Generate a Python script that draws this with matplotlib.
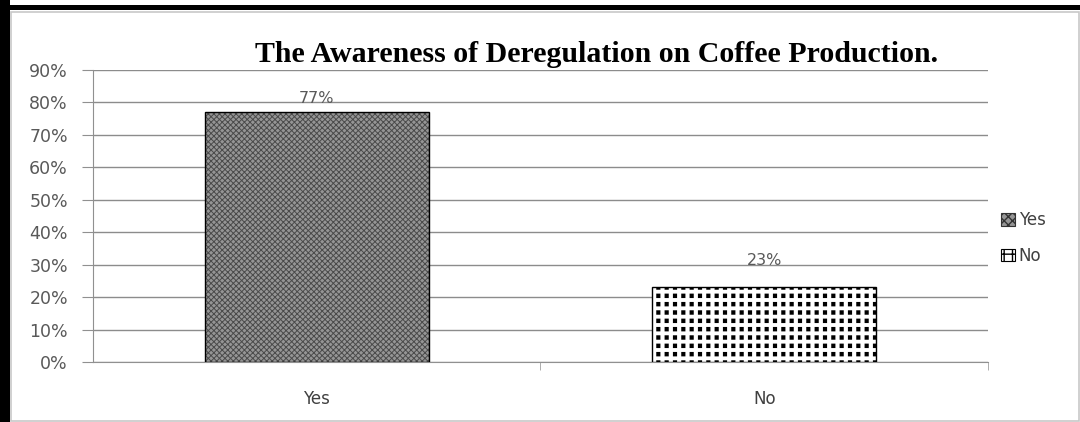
import matplotlib.pyplot as plt
import matplotlib as mpl
from matplotlib.patches import Rectangle, Patch
from matplotlib.ticker import PercentFormatter

categories = ['Yes', 'No']
shares = [77, 23]
bar_labels = ['77%', '23%']
title = 'The Awareness of Deregulation on Coffee Production.'

fig = plt.figure(figsize=(10.8, 4.22), dpi=100)
ax = fig.add_axes([0.0861, 0.1422, 0.8287, 0.6918])

# fine grey stipple for "Yes"
with mpl.rc_context({'hatch.linewidth': 0.7}):
    ax.bar(0, shares[0], width=0.5, facecolor='#959595', edgecolor='#4a4a4a',
           hatch='xxxxxx', linewidth=0, zorder=3)

# square grid of black dots for "No": thick horizontal stripes,
# then white vertical stripes cut them into dots
with mpl.rc_context({'hatch.linewidth': 3.2}):
    ax.bar(1, shares[1], width=0.5, facecolor='white', edgecolor='black',
           hatch='--', linewidth=0, zorder=3)
with mpl.rc_context({'hatch.linewidth': 3.0}):
    ax.bar(1, shares[1], width=0.5, facecolor='none', edgecolor='white',
           hatch='||', linewidth=0, zorder=3.5)

# outlines on top of the fills
ax.bar(range(len(categories)), shares, width=0.5, facecolor='none',
       edgecolor='black', linewidth=1.0, zorder=4)

label_gap = [14, 27]
for i, (v, lab) in enumerate(zip(shares, bar_labels)):
    ax.annotate(lab, (i, v), xytext=(0, label_gap[i]), textcoords='offset pixels',
                ha='center', va='center', fontsize=11.5, color='#595959')

ax.set_xlim(-0.5, 1.5)
ax.set_ylim(0, 90)
ax.set_yticks(range(0, 91, 10))
ax.yaxis.set_major_formatter(PercentFormatter(decimals=0))
ax.set_xticks(range(len(categories)))
ax.set_xticklabels(categories)
ax.set_xticks([0.5, 1.5], minor=True)
ax.tick_params(axis='x', which='major', length=0, pad=20, labelsize=12, labelcolor='#404040')
ax.tick_params(axis='x', which='minor', length=6, color='#a0a0a0', direction='out')
ax.tick_params(axis='y', length=8, color='#909090', labelsize=12.5, labelcolor='#595959', pad=10)

ax.grid(axis='y', color='#8c8c8c', linewidth=1.0, zorder=0)
for side in ('top', 'right'):
    ax.spines[side].set_visible(False)
ax.spines['left'].set_color('#909090')
ax.spines['bottom'].set_color('#909090')

fig.text(0.552, 0.853, title, ha='center', va='baseline', fontsize=21.5,
         fontweight='bold', family='Liberation Serif', color='black')

with mpl.rc_context({'hatch.linewidth': 0.8}):
    handles = [Patch(facecolor='#959595', edgecolor='#333333', hatch='xxxx', lw=0.8),
               Patch(facecolor='white', edgecolor='black', hatch='++', lw=0.8)]
leg = ax.legend(handles, categories, loc='center left', bbox_to_anchor=(0.998, 0.425),
                frameon=False, fontsize=12, handlelength=0.8, handleheight=0.8,
                handletextpad=0.25, labelspacing=1.05)
for t in leg.get_texts():
    t.set_color('#404040')

# outer frame: heavy black on top/left, thin grey inside and along the bottom
fig.patches.append(Rectangle((0, 0), 0.009, 1, transform=fig.transFigure,
                             facecolor='black', edgecolor='none'))
fig.patches.append(Rectangle((0, 0.976), 1, 0.013, transform=fig.transFigure,
                             facecolor='black', edgecolor='none'))
fig.patches.append(Rectangle((0.0105, 0.003), 0.989, 0.968, transform=fig.transFigure,
                             facecolor='none', edgecolor='#c8c8c8', linewidth=1.2))

fig.savefig('out.png', dpi=100)
